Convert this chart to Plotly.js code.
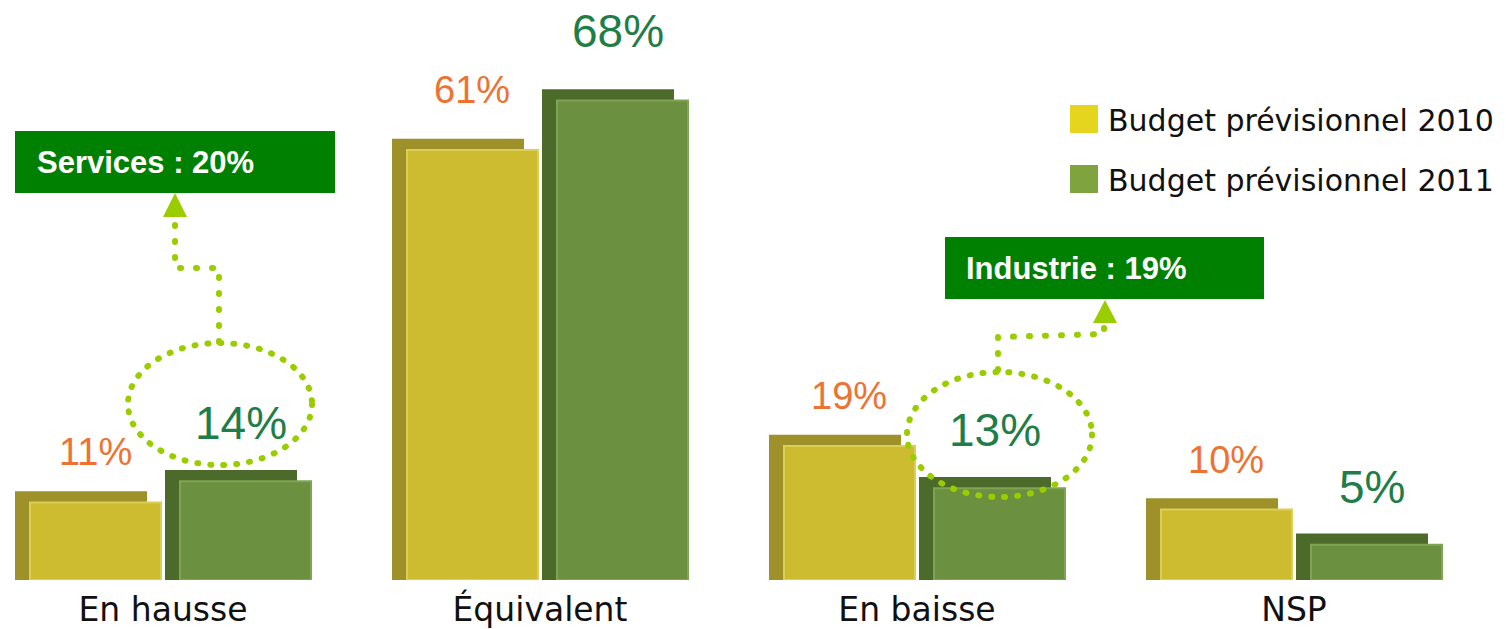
<!DOCTYPE html>
<html>
<head>
<meta charset="utf-8">
<script src="https://cdn.plot.ly/plotly-3.0.1.min.js"></script>
<style>
html,body{margin:0;padding:0;background:#fff;}
#chart{width:1506px;height:629px;}
.shapelayer path{stroke-linecap:round;}
</style>
</head>
<body>
<div id="chart"></div>
<script>
// ---- data ----
const categories = ['En hausse', 'Équivalent', 'En baisse', 'NSP'];
const budget2010 = [11, 61, 19, 10];
const budget2011 = [14, 68, 13, 5];
const seriesNames = ['Budget prévisionnel 2010', 'Budget prévisionnel 2011'];
const callouts = ['Services : 20%', 'Industrie : 19%'];

// ---- layout geometry ----
const W = 1506, H = 629, MB = 49, PH = H - MB;
const STEP = 377, C0 = 163, PXPER = 7.05;
const xr = [-C0 / STEP, (W - C0) / STEP];
const yr = [0, PH / PXPER];
const depth = 1.6; // visual depth of the 3D box, in % units

const YEL = '#CDBC2F', YEL_D = '#9E9129', GRN = '#6B903F', GRN_D = '#4C6B2A';
const idx = categories.map((c, i) => i);
const withDepth = arr => arr.map(v => v + depth);

function bar(y, color, offset, width, name, show, group, line) {
  return {
    type: 'bar', x: idx, y: y, name: name, showlegend: show, legendgroup: group,
    offset: offset, width: width, hoverinfo: 'skip',
    marker: {color: color, line: line || {width: 0}}
  };
}

const data = [
  bar(withDepth(budget2010), YEL_D, -148 / STEP, 132 / STEP, seriesNames[0], false, 'a'),
  bar(budget2010, YEL, -133 / STEP, 131 / STEP, seriesNames[0], true, 'a', {color: '#DCCE57', width: 2}),
  bar(withDepth(budget2011), GRN_D, 2 / STEP, 132 / STEP, seriesNames[1], false, 'b'),
  bar(budget2011, GRN, 17 / STEP, 131 / STEP, seriesNames[1], true, 'b', {color: '#80A456', width: 2})
];

// perspective: labels of tall bars sit a little higher
const lift = v => Math.max(0, v - 20) * 0.25;

// value labels
const annotations = [];
budget2010.forEach((v, i) => annotations.push({
  xref: 'x', yref: 'y', x: i - 68 / STEP, y: v, yanchor: 'bottom', yshift: 27 + lift(v),
  text: v + '%', showarrow: false,
  font: {family: 'Liberation Sans, Arial, sans-serif', size: 38, color: '#EE7231'}
}));
budget2011.forEach((v, i) => annotations.push({
  xref: 'x', yref: 'y', x: i + 78 / STEP, y: v, yanchor: 'bottom', yshift: 30 + lift(v),
  text: v + '%', showarrow: false,
  font: {family: 'Liberation Sans, Arial, sans-serif', size: 46, color: '#1F7D47'}
}));

// helpers for decoration positions (pixels -> paper)
const px = p => p / W;
const py = p => 1 - p / PH;

annotations.push({
  xref: 'paper', yref: 'paper', x: px(35), y: py(162), xanchor: 'left', yanchor: 'middle',
  text: '<b>' + callouts[0] + '</b>', showarrow: false,
  font: {family: 'Liberation Sans, Arial, sans-serif', size: 31, color: '#ffffff'}
});
annotations.push({
  xref: 'paper', yref: 'paper', x: px(964), y: py(268), xanchor: 'left', yanchor: 'middle',
  text: '<b>' + callouts[1] + '</b>', showarrow: false,
  font: {family: 'Liberation Sans, Arial, sans-serif', size: 31, color: '#ffffff'}
});

const DOT = '#9ACD00';
function pathStr(pts) {
  return pts.map((p, k) => (k ? 'L' : 'M') + px(p[0]) + ',' + py(p[1])).join(' ') ;
}
const shapes = [
  {type: 'rect', xref: 'paper', yref: 'paper', x0: px(15), x1: px(335), y0: py(193), y1: py(131),
   fillcolor: '#008000', line: {width: 0}, layer: 'below'},
  {type: 'rect', xref: 'paper', yref: 'paper', x0: px(945), x1: px(1264), y0: py(299), y1: py(237),
   fillcolor: '#008000', line: {width: 0}, layer: 'below'},
  {type: 'circle', xref: 'paper', yref: 'paper', x0: px(128), x1: px(312), y0: py(465), y1: py(343),
   line: {color: DOT, width: 6, dash: '1px,12px'}},
  {type: 'circle', xref: 'paper', yref: 'paper', x0: px(907), x1: px(1092), y0: py(497), y1: py(372),
   line: {color: DOT, width: 6, dash: '1px,12px'}},
  {type: 'path', xref: 'paper', yref: 'paper', path: pathStr([[219, 342], [219, 268], [175, 268], [175, 224]]),
   line: {color: DOT, width: 6, dash: '1px,15px'}},
  {type: 'path', xref: 'paper', yref: 'paper', path: pathStr([[998, 370], [998, 337], [1104, 334], [1104, 328]]),
   line: {color: DOT, width: 6, dash: '1px,15px'}},
  {type: 'path', xref: 'paper', yref: 'paper', path: pathStr([[175, 193], [163, 217], [187, 217]]) + ' Z',
   fillcolor: DOT, line: {width: 0}},
  {type: 'path', xref: 'paper', yref: 'paper', path: pathStr([[1105, 300], [1093, 323], [1117, 323]]) + ' Z',
   fillcolor: DOT, line: {width: 0}}
];

const layout = {
  width: W, height: H,
  margin: {l: 0, r: 0, t: 0, b: MB, pad: 0},
  paper_bgcolor: '#ffffff', plot_bgcolor: '#ffffff',
  barmode: 'overlay',
  showlegend: true,
  legend: {
    x: px(1060), y: py(93), xanchor: 'left', yanchor: 'top',
    font: {family: 'DejaVu Sans, sans-serif', size: 30, color: '#111111'},
    tracegroupgap: 18, itemwidth: 38, bgcolor: 'rgba(0,0,0,0)'
  },
  xaxis: {
    range: xr, tickmode: 'array', tickvals: idx, ticktext: categories,
    showgrid: false, zeroline: false, showline: false, ticks: '',
    ticklabelstandoff: 7,
    tickfont: {family: 'DejaVu Sans, sans-serif', size: 33, color: '#111111'}
  },
  yaxis: {range: yr, visible: false, showgrid: false, zeroline: false},
  annotations: annotations,
  shapes: shapes
};

Plotly.newPlot('chart', data, layout, {displayModeBar: false, staticPlot: true}).then(() => {
  const legendColors = ['#E6D51E', '#7FA33F'];
  document.querySelectorAll('.legend .traces').forEach((t, k) => {
    t.querySelectorAll('.legendpoints path').forEach(p => {
      const tr = p.getAttribute('transform') || '';
      p.setAttribute('transform', tr + ' scale(2.33)');
      p.style.fill = legendColors[k] || p.style.fill;
      p.style.strokeWidth = '0';
    });
  });
});
</script>
</body>
</html>
